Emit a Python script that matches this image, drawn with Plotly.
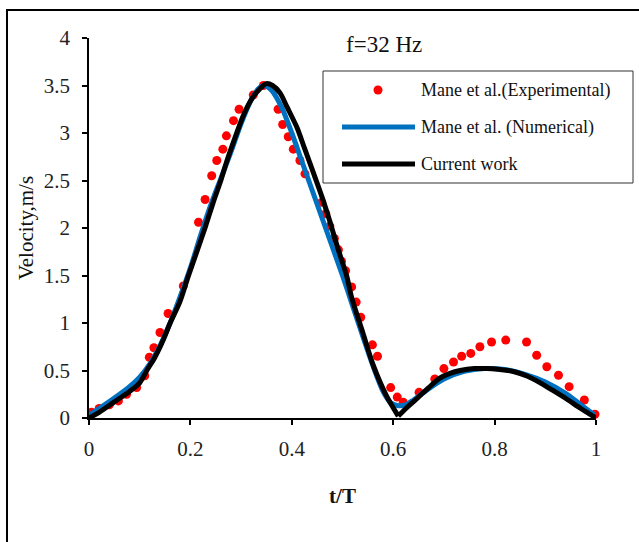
import plotly.graph_objects as go

# ---------------- data ----------------
exp_x = [0.005, 0.020, 0.040, 0.058, 0.074, 0.094, 0.110, 0.119, 0.128, 0.140, 0.156,
         0.186, 0.216, 0.229, 0.242, 0.252, 0.264, 0.271, 0.285, 0.296, 0.324, 0.344,
         0.373, 0.382, 0.393, 0.403, 0.416, 0.426, 0.459, 0.467, 0.475, 0.484, 0.492,
         0.498, 0.506, 0.518, 0.527, 0.536, 0.559, 0.569, 0.595, 0.608, 0.620, 0.651,
         0.682, 0.700, 0.719, 0.735, 0.753, 0.771, 0.794, 0.822, 0.863, 0.883, 0.903,
         0.926, 0.947, 0.977, 0.998]
exp_y = [0.06, 0.10, 0.14, 0.18, 0.25, 0.32, 0.445, 0.64, 0.74, 0.90, 1.10,
         1.39, 2.06, 2.30, 2.55, 2.71, 2.83, 2.97, 3.13, 3.25, 3.40, 3.50,
         3.25, 3.09, 2.96, 2.83, 2.71, 2.57, 2.27, 2.15, 2.02, 1.89, 1.77,
         1.65, 1.55, 1.38, 1.22, 1.06, 0.77, 0.65, 0.32, 0.22, 0.165, 0.27,
         0.41, 0.52, 0.59, 0.65, 0.68, 0.75, 0.80, 0.82, 0.80, 0.66, 0.54,
         0.45, 0.33, 0.19, 0.04]

num_x = [0.0, 0.02, 0.05, 0.08, 0.10, 0.12, 0.14, 0.16, 0.18, 0.20, 0.22, 0.24, 0.26,
         0.28, 0.30, 0.32, 0.335, 0.345, 0.36, 0.38, 0.40, 0.42, 0.44, 0.46, 0.48,
         0.50, 0.52, 0.54, 0.56, 0.58, 0.595, 0.61, 0.625, 0.64, 0.66, 0.70, 0.74,
         0.78, 0.82, 0.86, 0.90, 0.94, 0.97, 1.0]
num_y = [0.03, 0.10, 0.21, 0.33, 0.43, 0.57, 0.76, 1.00, 1.28, 1.58, 1.92, 2.24, 2.52,
         2.80, 3.10, 3.35, 3.47, 3.50, 3.45, 3.27, 3.00, 2.70, 2.40, 2.10, 1.80,
         1.50, 1.18, 0.86, 0.55, 0.28, 0.16, 0.13, 0.14, 0.19, 0.27, 0.41, 0.49,
         0.52, 0.51, 0.46, 0.38, 0.26, 0.14, 0.02]

cur_x = [0.0, 0.02, 0.05, 0.08, 0.10, 0.114, 0.13, 0.147, 0.16, 0.179, 0.195, 0.212,
         0.23, 0.245, 0.26, 0.271, 0.29, 0.304, 0.32, 0.331, 0.35, 0.362, 0.377, 0.39,
         0.41, 0.425, 0.442, 0.46, 0.475, 0.49, 0.508, 0.518, 0.54, 0.561, 0.587,
         0.610, 0.625, 0.646, 0.67, 0.692, 0.712, 0.732, 0.76, 0.784, 0.81, 0.837,
         0.865, 0.890, 0.915, 0.942, 0.97, 1.0]
cur_y = [0.0, 0.06, 0.17, 0.28, 0.37, 0.50, 0.64, 0.83, 1.00, 1.22, 1.48, 1.74,
         2.02, 2.27, 2.50, 2.69, 2.98, 3.18, 3.35, 3.43, 3.52, 3.50, 3.42, 3.28,
         3.06, 2.84, 2.59, 2.32, 2.07, 1.80, 1.50, 1.27, 0.90, 0.55, 0.23,
         0.02, 0.10, 0.20, 0.32, 0.42, 0.47, 0.50, 0.52, 0.52, 0.51, 0.49,
         0.44, 0.37, 0.29, 0.20, 0.10, 0.0]

x_ticks = [0, 0.2, 0.4, 0.6, 0.8, 1]
x_tick_text = ["0", "0.2", "0.4", "0.6", "0.8", "1"]
y_ticks = [0, 0.5, 1, 1.5, 2, 2.5, 3, 3.5, 4]
y_tick_text = ["0", "0.5", "1", "1.5", "2", "2.5", "3", "3.5", "4"]

legend_names = ["Mane et al.(Experimental)", "Mane et al. (Numerical)", "Current work"]

RED = "#FF0000"
BLUE = "#0070C0"
BLACK = "#000000"
FONT = "Liberation Serif"

# the current-work curve has a sharp cusp at its minimum: draw it in two smooth pieces
v = cur_y.index(min(cur_y[10:40]))

fig = go.Figure()
fig.add_trace(go.Scatter(x=exp_x, y=exp_y, mode="markers", name=legend_names[0],
                         marker=dict(color=RED, size=9), cliponaxis=False))
fig.add_trace(go.Scatter(x=num_x, y=num_y, mode="lines", name=legend_names[1],
                         line=dict(color=BLUE, width=5, shape="spline", smoothing=0.8),
                         cliponaxis=False))
fig.add_trace(go.Scatter(x=cur_x[:v + 1], y=cur_y[:v + 1], mode="lines", name=legend_names[2],
                         line=dict(color=BLACK, width=5, shape="spline", smoothing=0.8),
                         cliponaxis=False))
fig.add_trace(go.Scatter(x=cur_x[v:], y=cur_y[v:], mode="lines", name=legend_names[2],
                         line=dict(color=BLACK, width=5, shape="spline", smoothing=0.8),
                         cliponaxis=False, showlegend=False))

W, H = 639, 542
L, R, T, B = 89, 43, 38, 124
pw, ph = W - L - R, H - T - B


def px(x):
    return (x - L) / pw


def py(y):
    return (H - B - y) / ph


shapes = [
    # outer chart border
    dict(type="rect", xref="paper", yref="paper", x0=px(7), x1=px(660), y0=py(560), y1=py(10),
         line=dict(color=BLACK, width=2), fillcolor="rgba(0,0,0,0)", layer="below"),
    # legend box
    dict(type="rect", xref="paper", yref="paper", x0=px(323), x1=px(633), y0=py(183), y1=py(71),
         line=dict(color="#333333", width=1), fillcolor="white", layer="below"),
    dict(type="circle", xref="paper", yref="paper", x0=px(373.5), x1=px(382.5), y0=py(94.5), y1=py(85.5),
         line=dict(width=0), fillcolor=RED),
    dict(type="line", xref="paper", yref="paper", x0=px(342), x1=px(415), y0=py(127), y1=py(127),
         line=dict(color=BLUE, width=5)),
    dict(type="line", xref="paper", yref="paper", x0=px(342), x1=px(415), y0=py(164), y1=py(164),
         line=dict(color=BLACK, width=5)),
]

annotations = [
    dict(text=legend_names[0], xref="paper", yref="paper", x=px(419), y=py(90), xanchor="left",
         yanchor="middle", showarrow=False, font=dict(family=FONT, size=18, color="#111")),
    dict(text=legend_names[1], xref="paper", yref="paper", x=px(419), y=py(128), xanchor="left",
         yanchor="middle", showarrow=False, font=dict(family=FONT, size=18, color="#111")),
    dict(text=legend_names[2], xref="paper", yref="paper", x=px(419), y=py(164), xanchor="left",
         yanchor="middle", showarrow=False, font=dict(family=FONT, size=18, color="#111")),
    dict(text="f=32 Hz", xref="paper", yref="paper", x=px(384), y=py(45), xanchor="center",
         yanchor="middle", showarrow=False, font=dict(family=FONT, size=23, color="#111")),
]

fig.update_layout(
    width=W, height=H,
    margin=dict(l=L, r=R, t=T, b=B),
    paper_bgcolor="white", plot_bgcolor="white",
    showlegend=False,
    shapes=shapes, annotations=annotations,
    font=dict(family=FONT, color="#222"),
)
fig.update_xaxes(range=[0, 1], tickvals=x_ticks, ticktext=x_tick_text, showgrid=False, zeroline=False,
                 showline=True, linecolor=BLACK, linewidth=1.5, ticks="outside", ticklen=5,
                 tickcolor=BLACK, tickwidth=1.5, tickfont=dict(family=FONT, size=21, color="#222"),
                 ticklabelstandoff=6,
                 title=dict(text="<b>t/T</b>", font=dict(family=FONT, size=21, color="#111"), standoff=28))
fig.update_yaxes(range=[0, 4], tickvals=y_ticks, ticktext=y_tick_text, showgrid=False, zeroline=False,
                 showline=True, linecolor=BLACK, linewidth=1.5, ticks="outside", ticklen=5,
                 tickcolor=BLACK, tickwidth=1.5, tickfont=dict(family=FONT, size=21, color="#222"),
                 ticklabelstandoff=8,
                 title=dict(text="Velocity,m/s", font=dict(family=FONT, size=21, color="#111"), standoff=4))

fig.write_html("out.html")
